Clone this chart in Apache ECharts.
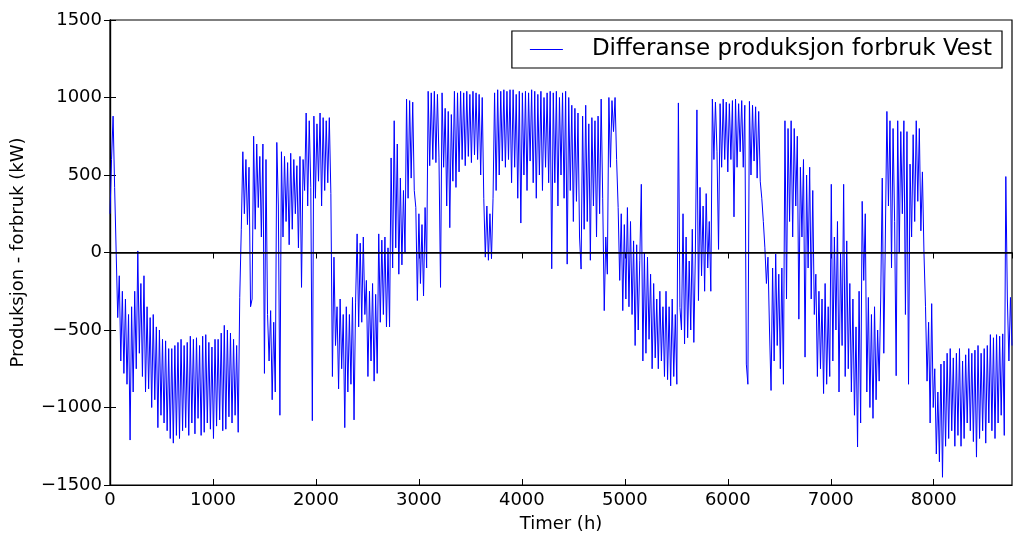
<!DOCTYPE html>
<html>
<head>
<meta charset="utf-8">
<script src="https://cdn.jsdelivr.net/npm/echarts@6/dist/echarts.min.js"></script>
<style>html,body{margin:0;padding:0;background:#fff}#c{width:1024px;height:548px}</style>
</head>
<body>
<div id="c"></div>
<script>
// Step between samples (hours) and values (kW)
var stepHours = 15;
var values = [
  250, 600, 880, 420, 0, -420, -150, -700, -250, -780, -300, -850, -400, -1210, -350, -900, -250, -750, 10, -650,
  -200, -800, -150, -900, -350, -880, -420, -1000, -400, -950, -480, -1130, -500, -1050, -560, -1100, -570, -1150, -620, -1200,
  -620, -1230, -600, -1180, -580, -1200, -560, -1150, -600, -1130, -580, -1180, -540, -1100, -560, -1170, -550, -1070, -600, -1180,
  -540, -1160, -530, -1100, -580, -1140, -610, -1200, -560, -1120, -560, -1080, -520, -1150, -470, -1140, -500, -1060, -520, -1100,
  -560, -1050, -600, -1160, -290, 150, 650, 250, 600, 180, 550, -350, -300, 750, 150, 700, 290, 620, 100, 700,
  -780, 600, -400, -700, -375, -950, -450, -900, 710, 300, -1050, 650, 100, 620, 200, 580, 50, 640, 150, 600,
  250, 560, 30, 620, -225, 600, 400, 900, 300, 850, 420, -1085, 880, 350, 830, 460, 900, 300, 870, 400,
  850, 450, 870, 380, -800, -30, -600, -350, -880, -300, -750, -400, -1130, -350, -900, -400, -850, -290, -1080, -320,
  120, -480, 60, -450, 100, -400, -180, -800, -250, -700, -200, -830, -270, -780, 120, -450, 80, -400, 100, -480,
  30, -480, 610, -100, 850, 30, 700, -140, 480, -80, 400, 0, 990, 350, 980, 480, 970, 400, 290, -310,
  250, -200, 180, -280, 290, -100, 1040, 560, 1030, 600, 1040, 580, 1020, 610, -225, 1030, 550, 930, 300, 910,
  160, 890, 460, 1040, 420, 1030, 520, 1040, 600, 1030, 560, 1040, 620, 1020, 580, 1040, 630, 1030, 600, 1020,
  500, 1000, 350, -30, 300, -50, 250, -40, 350, 1030, 400, 1050, 500, 1040, 590, 1050, 550, 1040, 600, 1050,
  450, 1050, 550, 1020, 350, 1040, 190, 1030, 500, 1040, 400, 1030, 590, 1050, 450, 1040, 350, 1020, 500, 1040,
  400, 1000, 550, 1030, 450, 1040, -105, 1030, 450, 1040, 300, 1000, 500, 1030, 350, 1040, -75, 1000, 400, 950,
  200, 930, 330, 900, 100, -107, 880, 150, 950, 200, 830, -50, 870, 300, 850, 100, 880, 250, 990, 350,
  -375, 100, -140, 1000, 550, 980, 780, 1000, 600, 290, -180, 250, -375, 180, -300, 290, -350, 200, -400, 75,
  -600, 50, -500, -50, 440, -700, 0, -650, -30, -560, -140, -750, -200, -680, -300, -750, -250, -700, -350, -800,
  -250, -820, -350, -860, -300, -800, -400, -850, 965, -355, -500, 250, -590, 100, -550, -55, -500, 150, -580, 0,
  920, -310, 420, -150, 300, -250, 380, -100, 200, -250, 990, 600, 970, 650, 20, 960, 550, 990, 600, 970,
  520, 960, 600, 980, 230, 990, 550, 960, 650, 980, 550, 950, -720, -850, 975, 500, 950, 590, 940, 480,
  910, 460, 350, 200, 30, -200, -30, -500, -890, -100, -700, -10, -600, -140, -750, -100, -850, 850, -300, 800,
  200, 850, 100, 800, 300, 750, -430, 550, 100, 600, -675, 500, -100, 550, -300, 400, -400, -140, -800, -250,
  -750, -300, -910, -200, -850, -350, -800, 440, -700, 100, -500, 200, -900, 0, -600, 440, -800, 75, -750, -200,
  -900, -300, -1050, -480, -1255, -250, -1100, 330, -180, 250, -900, -290, -1000, -400, -1070, -350, -950, -500, -830, -300,
  480, -650, 100, 910, 300, 850, -100, 800, 200, -795, 850, 0, 780, 250, 850, -400, 780, -850, 570, 100,
  760, 200, 850, 330, 800, 140, 520, 0, -350, -830, -450, -1100, -330, -1000, -750, -1300, -900, -1350, -720, -1450,
  -700, -1250, -650, -1200, -620, -1150, -680, -1250, -650, -1180, -620, -1250, -700, -1200, -660, -1100, -620, -1150, -650, -1220,
  -630, -1320, -600, -1200, -650, -1150, -620, -1230, -600, -1100, -530, -1150, -550, -1200, -530, -1100, -540, -1050, -525, -1180,
  490, -300, -700, -290, -600
];
var xTicks = [0, 1000, 2000, 3000, 4000, 5000, 6000, 7000, 8000];
var yTicks = [-1500, -1000, -500, 0, 500, 1000, 1500];
var seriesName = 'Differanse produksjon forbruk Vest';

var pts = values.map(function (v, i) { return [i * stepHours, v]; });
var font = 'DejaVu Sans';
var chart = echarts.init(document.getElementById('c'), null, {renderer: 'canvas'});
var tickCommon = {show: true, inside: true, length: 6, lineStyle: {color: '#000', width: 1}};
chart.setOption({
  animation: false,
  backgroundColor: '#fff',
  grid: {left: 110, right: 12, top: 20, bottom: 63, show: true, borderColor: '#000', borderWidth: 1.2},
  legend: {
    right: 22, top: 31, orient: 'horizontal',
    data: [{name: seriesName, icon: 'rect'}],
    itemWidth: 33, itemHeight: 1,
    padding: [7, 10, 7, 18],
    borderColor: '#000', borderWidth: 1.2, borderRadius: 0,
    textStyle: {fontFamily: font, fontSize: 23, color: '#000', padding: [0, 0, 0, 24]}
  },
  xAxis: [{
    type: 'value', min: 0, max: 8760, interval: 1000,
    name: 'Timer (h)', nameLocation: 'middle', nameGap: 30,
    nameTextStyle: {fontFamily: font, fontSize: 18, color: '#000'},
    axisLine: {show: true, onZero: false, lineStyle: {color: '#000', width: 1.2}},
    axisTick: tickCommon,
    axisLabel: {fontFamily: font, fontSize: 18, color: '#000', margin: 6, showMaxLabel: false,
      formatter: function (v) { return xTicks.indexOf(v) >= 0 ? String(v) : ''; }},
    splitLine: {show: false}
  }, {
    type: 'value', position: 'top', min: 0, max: 8760, interval: 1000,
    axisLine: {show: true, lineStyle: {color: '#000', width: 1.2}},
    axisTick: tickCommon, axisLabel: {show: false}, splitLine: {show: false}
  }],
  yAxis: [{
    type: 'value', min: -1500, max: 1500, interval: 500,
    name: 'Produksjon - forbruk (kW)', nameLocation: 'middle', nameGap: 83, nameRotate: 90,
    nameTextStyle: {fontFamily: font, fontSize: 18, color: '#000'},
    axisLine: {show: true, onZero: false, lineStyle: {color: '#000', width: 1.2}},
    axisTick: tickCommon,
    axisLabel: {fontFamily: font, fontSize: 18, color: '#000', margin: 8,
      formatter: function (v) { return yTicks.indexOf(v) >= 0 ? String(v).replace('-', '\u2212') : ''; }},
    splitLine: {show: false}
  }, {
    type: 'value', position: 'right', min: -1500, max: 1500, interval: 500,
    axisLine: {show: true, lineStyle: {color: '#000', width: 1.2}},
    axisTick: tickCommon, axisLabel: {show: false}, splitLine: {show: false}
  }],
  series: [{
    name: seriesName, type: 'line', data: pts,
    xAxisIndex: 0, yAxisIndex: 0,
    showSymbol: false, symbol: 'none',
    lineStyle: {color: '#0000ff', width: 1},
    itemStyle: {color: '#0000ff'},
    markLine: {
      silent: true, symbol: ['none', 'none'], label: {show: false},
      lineStyle: {color: '#000', width: 1.5, type: 'solid'},
      data: [{yAxis: 0}]
    },
    z: 2
  }]
});
</script>
</body>
</html>
